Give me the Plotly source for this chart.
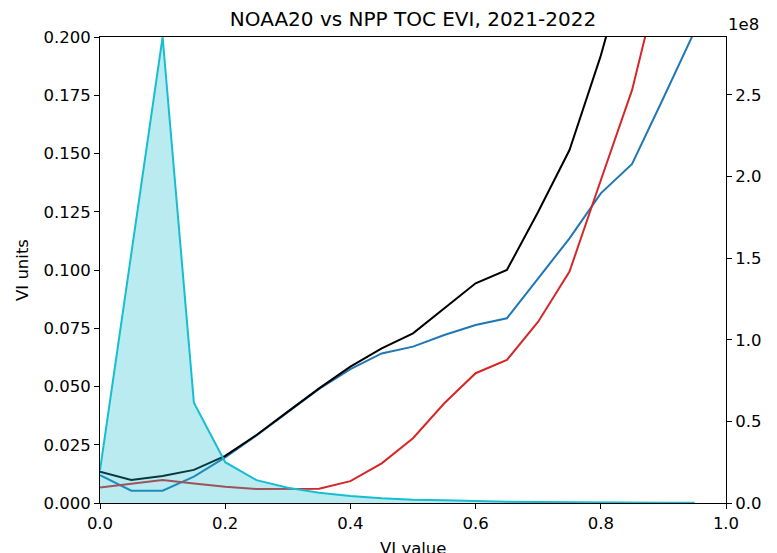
import plotly.graph_objects as go

# ---- data ----
vi_x = [0.0, 0.05, 0.1, 0.15, 0.2, 0.25, 0.3, 0.35, 0.4, 0.45, 0.5,
        0.55, 0.6, 0.65, 0.7, 0.75, 0.8, 0.85, 0.9, 0.95]

black_vals = [0.0134, 0.0099, 0.0116, 0.0142, 0.0202, 0.0292, 0.0392, 0.0492, 0.0585, 0.0664,
              0.0728, 0.0836, 0.0943, 0.1000, 0.1250, 0.1515, 0.1920, 0.2400, 0.2900, 0.3400]
blue_vals = [0.0120, 0.0053, 0.0053, 0.0113, 0.0196, 0.0290, 0.0390, 0.0490, 0.0575, 0.0642,
             0.0671, 0.0721, 0.0764, 0.0793, 0.0964, 0.1136, 0.1329, 0.1455, 0.1738, 0.2026]
red_vals = [0.0067, 0.0084, 0.0099, 0.0084, 0.0070, 0.0060, 0.0059, 0.0061, 0.0094, 0.0170,
            0.0278, 0.0428, 0.0557, 0.0614, 0.0778, 0.0993, 0.1385, 0.1773, 0.2320, 0.2800]
count_vals = [0.20e8, 1.53e8, 2.855e8, 0.615e8, 0.25e8, 0.14e8, 0.094e8, 0.063e8, 0.043e8, 0.029e8,
              0.020e8, 0.0165e8, 0.011e8, 0.008e8, 0.006e8, 0.004e8, 0.003e8, 0.002e8, 0.0015e8, 0.001e8]

left_ticks = [0.0, 0.025, 0.05, 0.075, 0.1, 0.125, 0.15, 0.175, 0.2]
left_tick_text = ["0.000", "0.025", "0.050", "0.075", "0.100", "0.125", "0.150", "0.175", "0.200"]
right_ticks = [0.0, 0.5e8, 1.0e8, 1.5e8, 2.0e8, 2.5e8]
right_tick_text = ["0.0", "0.5", "1.0", "1.5", "2.0", "2.5"]
x_ticks = [0.0, 0.2, 0.4, 0.6, 0.8, 1.0]
x_tick_text = ["0.0", "0.2", "0.4", "0.6", "0.8", "1.0"]

FONT = "DejaVu Sans"
FS = 16.5

fig = go.Figure()
fig.add_trace(go.Scatter(x=vi_x, y=blue_vals, mode="lines",
                         line=dict(color="#1f77b4", width=2), yaxis="y"))
fig.add_trace(go.Scatter(x=vi_x, y=red_vals, mode="lines",
                         line=dict(color="#d62728", width=2), yaxis="y"))
fig.add_trace(go.Scatter(x=vi_x, y=black_vals, mode="lines",
                         line=dict(color="black", width=2), yaxis="y"))
fig.add_trace(go.Scatter(x=vi_x, y=count_vals, mode="lines", fill="tozeroy",
                         fillcolor="rgba(23,190,207,0.3)",
                         line=dict(color="#17becf", width=2), yaxis="y2"))

axis_common = dict(showgrid=False, zeroline=False, showline=True, linecolor="black",
                   linewidth=1, ticks="outside", ticklen=5, tickwidth=1, tickcolor="black",
                   automargin=False,
                   tickfont=dict(family=FONT, size=FS, color="black"))

W, H = 769, 545

fig.update_layout(
    width=W, height=H,
    margin=dict(l=92, r=51, t=29, b=50, autoexpand=False),
    plot_bgcolor="white", paper_bgcolor="white",
    showlegend=False,
    font=dict(family=FONT, color="black"),
    title=dict(text="NOAA20 vs NPP TOC EVI, 2021-2022", x=0.5, xref="paper", xanchor="center",
               y=(H - 11) / H, yanchor="middle", yref="container",
               font=dict(family=FONT, size=20, color="black")),
    xaxis=dict(range=[0, 1], tickvals=x_ticks, ticktext=x_tick_text, mirror=True, **axis_common),
    yaxis=dict(range=[0, 0.2], tickvals=left_ticks, ticktext=left_tick_text, **axis_common),
    yaxis2=dict(range=[0, 2.855e8], tickvals=right_ticks, ticktext=right_tick_text,
                overlaying="y", side="right", **axis_common),
    annotations=[
        dict(text="VI value", xref="paper", yref="paper", x=0.5, y=(503 - 548) / 466,
             xanchor="center", yanchor="middle", showarrow=False,
             font=dict(family=FONT, size=FS, color="black")),
        dict(text="VI units", xref="paper", yref="paper", x=(22 - 100) / 626, y=0.5,
             xanchor="center", yanchor="middle", textangle=-90, showarrow=False,
             font=dict(family=FONT, size=FS, color="black")),
        dict(text="N", xref="paper", yref="paper", x=(782 - 100) / 626, y=0.5,
             xanchor="center", yanchor="middle", textangle=-90, showarrow=False,
             font=dict(family=FONT, size=FS, color="black")),
        dict(text="1e8", xref="paper", yref="paper", x=1.0, y=1.0,
             xanchor="left", yanchor="bottom", yshift=1, showarrow=False,
             font=dict(family=FONT, size=FS, color="black")),
    ],
)

fig.write_html("out.html")
